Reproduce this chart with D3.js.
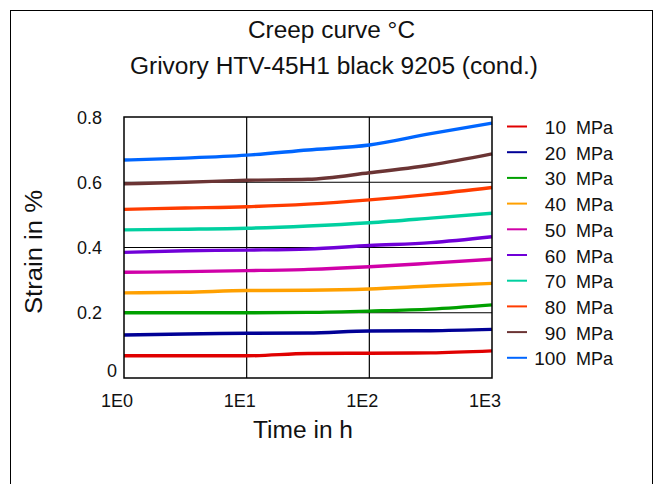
<!DOCTYPE html>
<html>
<head>
<meta charset="utf-8">
<script src="https://cdn.jsdelivr.net/npm/d3@7"></script>
<style>
  body { margin: 0; background: #fff; }
  svg text { font-family: "Liberation Sans", Arial, sans-serif; fill: #111; }
</style>
</head>
<body>
<svg id="chart" width="659" height="484"></svg>
<script>
const times = [1, 3.16, 10, 31.6, 100, 316, 1000];

const stresses = ["10 MPa", "20 MPa", "30 MPa", "40 MPa", "50 MPa",
                  "60 MPa", "70 MPa", "80 MPa", "90 MPa", "100 MPa"];
const colors = ["#e00000", "#000096", "#00a000", "#ffa000", "#d000a8",
                "#7000d8", "#00d0a0", "#ff3c00", "#6b3434", "#0066ff"];

// strain in % for each stress level
const s10  = [0.068, 0.068, 0.068, 0.075, 0.076, 0.077, 0.083];
const s20  = [0.132, 0.135, 0.137, 0.138, 0.144, 0.145, 0.149];
const s30  = [0.200, 0.200, 0.200, 0.201, 0.205, 0.211, 0.224];
const s40  = [0.261, 0.263, 0.268, 0.269, 0.273, 0.282, 0.290];
const s50  = [0.324, 0.326, 0.329, 0.333, 0.341, 0.352, 0.364];
const s60  = [0.385, 0.390, 0.392, 0.395, 0.406, 0.415, 0.433];
const s70  = [0.454, 0.456, 0.459, 0.466, 0.476, 0.490, 0.505];
const s80  = [0.517, 0.521, 0.525, 0.533, 0.546, 0.563, 0.584];
const s90  = [0.595, 0.600, 0.606, 0.609, 0.629, 0.653, 0.687];
const s100 = [0.668, 0.674, 0.683, 0.699, 0.714, 0.749, 0.781];
const series = [s10, s20, s30, s40, s50, s60, s70, s80, s90, s100];

const xTicks = [1, 10, 100, 1000];
const xTickLabels = ["1E0", "1E1", "1E2", "1E3"];
const yTicks = [0, 0.2, 0.4, 0.6, 0.8];

const svg = d3.select("#chart");
const margin = { top: 117, left: 124, right: 492, bottom: 378 };

// outer frame
svg.append("rect")
  .attr("x", 10.5).attr("y", 10.5)
  .attr("width", 642).attr("height", 490)
  .attr("fill", "none").attr("stroke", "#000").attr("stroke-width", 1);

const x = d3.scaleLog().domain([1, 1000]).range([margin.left, margin.right]);
const y = d3.scaleLinear().domain([0, 0.8]).range([margin.bottom, margin.top]);

// grid
svg.append("g")
  .selectAll("line")
  .data(xTicks.slice(1, -1))
  .join("line")
  .attr("x1", d => x(d)).attr("x2", d => x(d))
  .attr("y1", y(0)).attr("y2", y(0.8))
  .attr("stroke", "#000").attr("stroke-width", 1.2);

svg.append("g")
  .selectAll("line")
  .data(yTicks.slice(1, -1))
  .join("line")
  .attr("x1", x(1)).attr("x2", x(1000))
  .attr("y1", d => y(d)).attr("y2", d => y(d))
  .attr("stroke", "#000").attr("stroke-width", 1.2);

// curves
const line = d3.line()
  .x((d, i) => x(times[i]))
  .y(d => y(d))
  .curve(d3.curveMonotoneX);

svg.append("g")
  .selectAll("path")
  .data(series)
  .join("path")
  .attr("d", d => line(d))
  .attr("fill", "none")
  .attr("stroke", (d, i) => colors[i])
  .attr("stroke-width", 3.4);

// plot border
svg.append("rect")
  .attr("x", x(1)).attr("y", y(0.8))
  .attr("width", x(1000) - x(1)).attr("height", y(0) - y(0.8))
  .attr("fill", "none").attr("stroke", "#000").attr("stroke-width", 1.5);

// tick labels
svg.append("g")
  .selectAll("text")
  .data(xTicks)
  .join("text")
  .attr("x", d => x(d) - 7)
  .attr("y", 407)
  .attr("text-anchor", "middle")
  .attr("font-size", 18)
  .text((d, i) => xTickLabels[i]);

svg.append("g")
  .selectAll("text")
  .data(yTicks)
  .join("text")
  .attr("x", d => d === 0 ? 117 : 102)
  .attr("y", d => d === 0 ? 377 : y(d) + 6.5)
  .attr("text-anchor", "end")
  .attr("font-size", 18)
  .text(d => d === 0 ? "0" : d3.format(".1f")(d));

// axis titles
svg.append("text")
  .attr("x", 303).attr("y", 438)
  .attr("text-anchor", "middle").attr("font-size", 23)
  .attr("textLength", 100).attr("lengthAdjust", "spacingAndGlyphs")
  .text("Time in h");

svg.append("text")
  .attr("transform", "translate(42,252) rotate(-90)")
  .attr("text-anchor", "middle").attr("font-size", 23)
  .attr("textLength", 124).attr("lengthAdjust", "spacingAndGlyphs")
  .text("Strain in %");

// titles
svg.append("text")
  .attr("x", 331.5).attr("y", 37.5)
  .attr("text-anchor", "middle").attr("font-size", 23)
  .attr("textLength", 167).attr("lengthAdjust", "spacingAndGlyphs")
  .text("Creep curve °C");

svg.append("text")
  .attr("x", 334).attr("y", 73.5)
  .attr("text-anchor", "middle").attr("font-size", 23)
  .attr("textLength", 408).attr("lengthAdjust", "spacingAndGlyphs")
  .text("Grivory HTV-45H1 black 9205 (cond.)");

// legend
const legend = svg.append("g")
  .selectAll("g")
  .data(stresses)
  .join("g")
  .attr("transform", (d, i) => `translate(507,${126.5 + i * 25.7})`);

legend.append("line")
  .attr("x1", 0).attr("x2", 20)
  .attr("stroke", (d, i) => colors[i])
  .attr("stroke-width", 2);

legend.append("text")
  .attr("x", 59).attr("y", 7.5)
  .attr("text-anchor", "end").attr("font-size", 19)
  .text(d => d.split(" ")[0]);

legend.append("text")
  .attr("x", 69).attr("y", 7.5)
  .attr("font-size", 19)
  .attr("textLength", 37).attr("lengthAdjust", "spacingAndGlyphs")
  .text("MPa");
</script>
</body>
</html>
